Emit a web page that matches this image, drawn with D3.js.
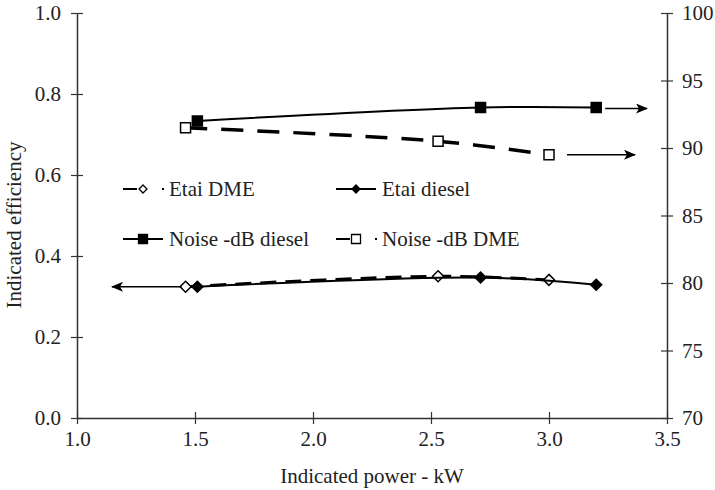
<!DOCTYPE html>
<html>
<head>
  <meta charset="UTF-8">
  <title>efficiency-noise</title>
  <style>
    body { margin: 0; background: #fff; }
    svg text { font-family: "Liberation Serif", serif; fill: #222; }
  </style>
</head>
<body>
  <div class="svg-zone"></div>
  <script src="https://cdn.jsdelivr.net/npm/d3@7/dist/d3.min.js"></script>
  <script type="text/javascript">
  // values
  var powerDME = [1.46, 2.53, 3.0];
  var powerDiesel = [1.51, 2.71, 3.2];
  var etaiDME = [0.324, 0.350, 0.341];
  var etaiDiesel = [0.324, 0.347, 0.329];
  var noiseDiesel = [92.0, 93.0, 93.0];
  var noiseDME = [91.5, 90.5, 89.5];

  var xTicks = [1.0, 1.5, 2.0, 2.5, 3.0, 3.5];
  var yLeftTicks = [0.0, 0.2, 0.4, 0.6, 0.8, 1.0];
  var yRightTicks = [70, 75, 80, 85, 90, 95, 100];

  render();

  function render() {
    var width = 715, height = 490;
    var m = { left: 77, right: 667, top: 13, bottom: 418 };
    var fs = "21px";

    var x = d3.scaleLinear().domain([1, 3.5]).range([m.left, m.right]);
    var yL = d3.scaleLinear().domain([0, 1]).range([m.bottom, m.top]);
    var yR = d3.scaleLinear().domain([70, 100]).range([m.bottom, m.top]);

    var svg = d3.select(".svg-zone").append("svg")
      .attr("width", width)
      .attr("height", height);

    svg.append("defs").append("marker")
      .attr("id", "arrow")
      .attr("viewBox", "0 0 12 10")
      .attr("refX", 11).attr("refY", 5)
      .attr("markerWidth", 12).attr("markerHeight", 10)
      .attr("markerUnits", "userSpaceOnUse")
      .attr("orient", "auto")
      .append("path")
      .attr("d", "M0,0 L12,5 L0,10 L3,5 Z")
      .attr("fill", "#000");

    // axes, ticks cross the line
    function crossTicks(g) {
      g.select(".domain").attr("stroke", "#333").attr("stroke-width", 1.5);
      g.selectAll(".tick line").attr("stroke", "#333").attr("stroke-width", 1.2);
      g.selectAll(".tick text").style("font-size", fs).attr("fill", "#222")
        .attr("font-family", "Liberation Serif");
    }

    var gx = svg.append("g")
      .attr("transform", "translate(0," + m.bottom + ")")
      .call(d3.axisBottom(x).tickValues(xTicks).tickFormat(d3.format(".1f"))
        .tickSizeOuter(0).tickSizeInner(6).tickPadding(7));
    crossTicks(gx);
    gx.selectAll(".tick line").attr("y1", -6);

    var gl = svg.append("g")
      .attr("transform", "translate(" + m.left + ",0)")
      .call(d3.axisLeft(yL).tickValues(yLeftTicks).tickFormat(d3.format(".1f"))
        .tickSizeOuter(0).tickSizeInner(6).tickPadding(10));
    crossTicks(gl);
    gl.selectAll(".tick line").attr("x1", 6);

    var gr = svg.append("g")
      .attr("transform", "translate(" + m.right + ",0)")
      .call(d3.axisRight(yR).tickValues(yRightTicks)
        .tickSizeOuter(0).tickSizeInner(6).tickPadding(9));
    crossTicks(gr);
    gr.selectAll(".tick line").attr("x1", -6);

    svg.append("text")
      .attr("x", (m.left + m.right) / 2).attr("y", 483)
      .attr("text-anchor", "middle")
      .style("font-size", fs)
      .text("Indicated power - kW");

    svg.append("text")
      .attr("transform", "translate(21,225) rotate(-90)")
      .attr("text-anchor", "middle")
      .style("font-size", fs)
      .text("Indicated efficiency");

    // series
    var series = [
      { name: "Etai DME", xs: powerDME, ys: etaiDME, y: yL, dash: "16,9", w: 3, shape: "diamond", fill: "#fff" },
      { name: "Etai diesel", xs: powerDiesel, ys: etaiDiesel, y: yL, dash: null, w: 2, shape: "diamond", fill: "#000" },
      { name: "Noise -dB diesel", xs: powerDiesel, ys: noiseDiesel, y: yR, dash: null, w: 2, shape: "square", fill: "#000" },
      { name: "Noise -dB DME", xs: powerDME, ys: noiseDME, y: yR, dash: "22,14", w: 3.5, shape: "square", fill: "#fff" }
    ];

    function symbolPath(shape, size) {
      if (shape === "square") {
        var h = size / 2;
        return "M" + (-h) + "," + (-h) + "h" + size + "v" + size + "h" + (-size) + "Z";
      }
      var d = size / 2;
      return "M0," + (-d) + "L" + d + ",0L0," + d + "L" + (-d) + ",0Z";
    }

    series.forEach(function (s) {
      var pts = s.xs.map(function (v, i) { return [x(v), s.y(s.ys[i])]; });
      var line = d3.line().curve(d3.curveCatmullRom.alpha(0.5));
      svg.append("path")
        .attr("d", line(pts))
        .attr("fill", "none")
        .attr("stroke", "#000")
        .attr("stroke-width", s.w)
        .attr("stroke-dasharray", s.dash);
      svg.selectAll(null).data(pts).enter().append("path")
        .attr("transform", function (p) { return "translate(" + p[0] + "," + p[1] + ")"; })
        .attr("d", symbolPath(s.shape, s.shape === "square" ? 10 : 11))
        .attr("fill", s.fill)
        .attr("stroke", "#000")
        .attr("stroke-width", 1.5);
    });

    // arrows pointing to the axis each group belongs to
    var arrows = [
      { x1: x(powerDME[0]) - 4, x2: 112, y: yL(etaiDME[0]) },
      { x1: x(powerDiesel[2]) + 9, x2: 647, y: yR(noiseDiesel[2]) + 1 },
      { x1: x(powerDME[2]) + 18, x2: 635, y: yR(noiseDME[2]) }
    ];
    svg.selectAll(".arrow").data(arrows).enter().append("line")
      .attr("class", "arrow")
      .attr("x1", function (d) { return d.x1; })
      .attr("x2", function (d) { return d.x2; })
      .attr("y1", function (d) { return d.y; })
      .attr("y2", function (d) { return d.y; })
      .attr("stroke", "#000")
      .attr("stroke-width", 1.5)
      .attr("marker-end", "url(#arrow)");

    // legend
    var legendPos = [[123, 189], [336, 189], [123, 239], [336, 239]];
    series.forEach(function (s, i) {
      var g = svg.append("g").attr("transform", "translate(" + legendPos[i][0] + "," + legendPos[i][1] + ")");
      if (s.dash) {
        g.append("line").attr("x1", 0).attr("x2", 14).attr("y1", 0).attr("y2", 0)
          .attr("stroke", "#000").attr("stroke-width", 2);
        g.append("rect").attr("x", 39).attr("y", -1).attr("width", 2).attr("height", 2).attr("fill", "#000");
      } else {
        g.append("line").attr("x1", 0).attr("x2", 40).attr("y1", 0).attr("y2", 0)
          .attr("stroke", "#000").attr("stroke-width", 2);
      }
      g.append("path")
        .attr("transform", "translate(20,0)")
        .attr("d", symbolPath(s.shape, s.shape === "square" ? 9 : 8))
        .attr("fill", s.fill)
        .attr("stroke", "#000")
        .attr("stroke-width", 1.3);
      g.append("text")
        .attr("x", 46).attr("y", 7)
        .style("font-size", fs)
        .text(s.name);
    });
  }
  </script>
</body>
</html>
